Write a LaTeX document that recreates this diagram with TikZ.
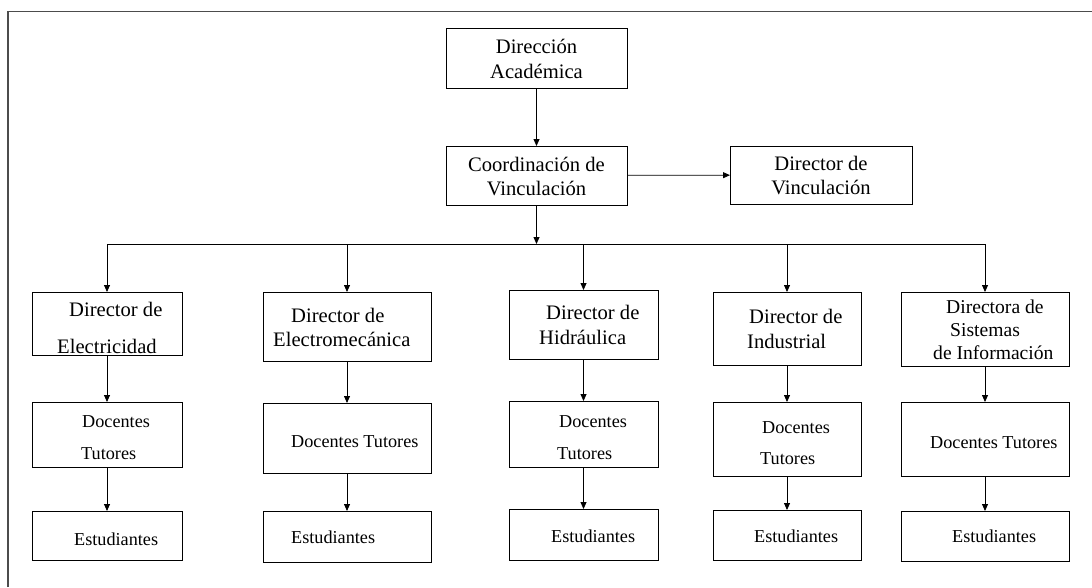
\documentclass[tikz,border=0pt]{standalone}
\usepackage{fontspec}
\setmainfont{Liberation Serif}
\usetikzlibrary{arrows.meta}
\begin{document}
\begin{tikzpicture}[x=1pt,y=-1pt,
  box/.style 2 args={draw, line width=0.8pt, minimum width=#1, minimum height=#2,
    inner sep=0pt, outer sep=0pt},
  big/.style={inner sep=0pt, font=\fontsize{20.6}{24}\selectfont},
  small/.style={inner sep=0pt, font=\fontsize{18.2}{22}\selectfont},
  mid/.style={inner sep=0pt, font=\fontsize{19.6}{23}\selectfont},
  link/.style={line width=0.8pt, -{Triangle[length=7pt,width=6pt]}},
  bus/.style={line width=0.8pt},
  frame/.style={line width=1.6pt, draw=black!70}]
\useasboundingbox (0,0) rectangle (1092,587);

% page frame (top and left edges)
\draw[frame] (8,587) -- (8,11.5) -- (1092,11.5);

% top level
\node[box={181pt}{60pt}] (acad) at (536.5,58) {};
\node[big, anchor=base] (acad1) at (536.5,53) {Dirección};
\node[big, anchor=base] (acad2) at (536.5,78) {Académica};

\node[box={181pt}{59pt}] (coord) at (536.5,175.5) {};
\node[big, anchor=base] (coord1) at (536.5,171) {Coordinación de};
\node[big, anchor=base] (coord2) at (536.5,195) {Vinculación};

\node[box={182pt}{58pt}] (dvin) at (821,175) {};
\node[big, anchor=base] (dvin1) at (821,170) {Director de};
\node[big, anchor=base] (dvin2) at (821,194) {Vinculación};

% directors
\node[box={150pt}{63pt}] (d1) at (107,323.5) {};
\node[big, anchor=base west] (d1a) at (69,316) {Director de};
\node[big, anchor=base west] (d1b) at (57,353) {Electricidad};

\node[box={168pt}{69pt}] (d2) at (347,326.5) {};
\node[big, anchor=base west] (d2a) at (291,322) {Director de};
\node[big, anchor=base west] (d2b) at (273,346) {Electromecánica};

\node[box={149pt}{69pt}] (d3) at (583.5,324.5) {};
\node[big, anchor=base west] (d3a) at (546,319) {Director de};
\node[big, anchor=base west] (d3b) at (539,344) {Hidráulica};

\node[box={148pt}{73pt}] (d4) at (787,328.5) {};
\node[big, anchor=base west] (d4a) at (749,323) {Director de};
\node[big, anchor=base west] (d4b) at (747,348) {Industrial};

\node[box={168pt}{74pt}] (d5) at (985,329) {};
\node[mid, anchor=base west] (d5a) at (946,313) {Directora de};
\node[mid, anchor=base west] (d5b) at (950,336) {Sistemas};
\node[mid, anchor=base west] (d5c) at (933,359) {de Información};

% teaching staff
\node[box={150pt}{65pt}] (m1) at (107,434.5) {};
\node[small, anchor=base west] (m1a) at (82,427) {Docentes};
\node[small, anchor=base west] (m1b) at (81,459) {Tutores};

\node[box={168pt}{70pt}] (m2) at (347,438) {};
\node[small, anchor=base west] (m2a) at (291,447) {Docentes Tutores};

\node[box={149pt}{66pt}] (m3) at (583.5,434) {};
\node[small, anchor=base west] (m3a) at (559,427) {Docentes};
\node[small, anchor=base west] (m3b) at (557,459) {Tutores};

\node[box={148pt}{74pt}] (m4) at (787,439) {};
\node[small, anchor=base west] (m4a) at (762,433) {Docentes};
\node[small, anchor=base west] (m4b) at (760,464) {Tutores};

\node[box={168pt}{74pt}] (m5) at (985,439) {};
\node[small, anchor=base west] (m5a) at (930,448) {Docentes Tutores};

% students
\node[box={150pt}{49pt}] (e1) at (107,535.5) {};
\node[small, anchor=base west] (e1a) at (74,545) {Estudiantes};

\node[box={168pt}{51pt}] (e2) at (347,536.5) {};
\node[small, anchor=base west] (e2a) at (291,543) {Estudiantes};

\node[box={149pt}{51pt}] (e3) at (583.5,534.5) {};
\node[small, anchor=base west] (e3a) at (551,542) {Estudiantes};

\node[box={148pt}{50pt}] (e4) at (787,535) {};
\node[small, anchor=base west] (e4a) at (754,542) {Estudiantes};

\node[box={168pt}{50pt}] (e5) at (985,536) {};
\node[small, anchor=base west] (e5a) at (952,542) {Estudiantes};

% distribution bar
\coordinate (bc) at (536.5,244);
\coordinate (b1) at (107,244);
\coordinate (b2) at (347,244);
\coordinate (b3) at (583.5,244);
\coordinate (b4) at (787,244);
\coordinate (b5) at (985,244);
\draw[bus] (b1) -- (b5);

% connectors
\draw[link] (acad) -- (coord);
\draw[link] (coord) -- (dvin);
\draw[link] (coord.south) -- (bc);
\foreach \i in {1,...,5}{
  \draw[link] (b\i) -- (d\i.north);
  \draw[link] (d\i) -- (m\i);
  \draw[link] (m\i) -- (e\i);
}
\end{tikzpicture}
\end{document}
